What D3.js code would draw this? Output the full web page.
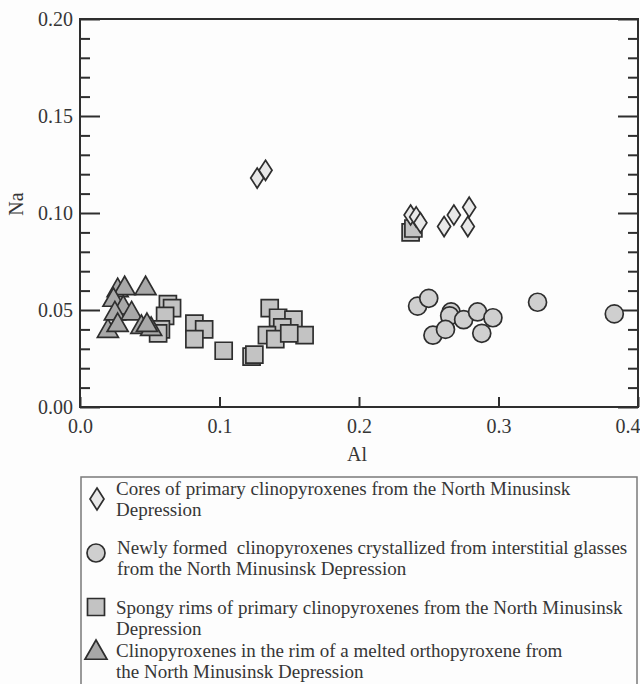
<!DOCTYPE html>
<html>
<head>
<meta charset="utf-8">
<script src="https://cdn.jsdelivr.net/npm/d3@7"></script>
<style>
  body { margin: 0; background: #fdfdfd; }
  svg { display: block; }
  text { font-family: "Liberation Serif", "Times New Roman", serif; fill: #363636; }
</style>
</head>
<body>
<div id="container"></div>
<script>
let w = 640;
let h = 684;

// cores of primary clinopyroxenes (diamonds)
let coresAl = [0.127, 0.133, 0.237, 0.241, 0.244, 0.261, 0.268, 0.279, 0.278];
let coresNa = [0.118, 0.122, 0.099, 0.098, 0.095, 0.093, 0.099, 0.103, 0.093];

// newly formed clinopyroxenes (circles)
let newAl = [0.242, 0.250, 0.266, 0.265, 0.275, 0.285, 0.296, 0.253, 0.262, 0.288, 0.328, 0.383];
let newNa = [0.052, 0.056, 0.049, 0.047, 0.045, 0.049, 0.046, 0.037, 0.040, 0.038, 0.054, 0.048];

// spongy rims (squares)
let spongyAl = [0.063, 0.066, 0.061, 0.058, 0.056, 0.082, 0.089, 0.082, 0.103, 0.123, 0.125,
                0.136, 0.142, 0.153, 0.145, 0.161, 0.134, 0.140, 0.150, 0.237, 0.239];
let spongyNa = [0.053, 0.051, 0.047, 0.040, 0.038, 0.043, 0.040, 0.035, 0.029, 0.026, 0.027,
                0.051, 0.046, 0.045, 0.041, 0.037, 0.037, 0.035, 0.038, 0.090, 0.092];

// rim of a melted orthopyroxene (triangles)
let rimAl = [0.020, 0.027, 0.032, 0.047, 0.024, 0.031, 0.025, 0.037, 0.027, 0.044, 0.051, 0.048];
let rimNa = [0.040, 0.061, 0.062, 0.062, 0.056, 0.052, 0.049, 0.049, 0.043, 0.042, 0.041, 0.043];

let xTicks = [0, 0.1, 0.2, 0.3, 0.4];
let xTickLabels = ["0.0", "0.1", "0.2", "0.3", "0.4"];
let yTicks = [0, 0.05, 0.10, 0.15, 0.20];
let yTickLabels = ["0.00", "0.05", "0.10", "0.15", "0.20"];
let yMinor = [0.01, 0.02, 0.03, 0.04, 0.06, 0.07, 0.08, 0.09, 0.11, 0.12, 0.13, 0.14, 0.16, 0.17, 0.18, 0.19];

let legendLines = [
  ["Cores of primary clinopyroxenes from the North Minusinsk", "Depression"],
  ["Newly formed  clinopyroxenes crystallized from interstitial glasses", "from the North Minusinsk Depression"],
  ["Spongy rims of primary clinopyroxenes from the North Minusinsk", "Depression"],
  ["Clinopyroxenes in the rim of a melted orthopyroxene from", "the North Minusinsk Depression"]
];

let plotLeft = 80, plotRight = 638, plotTop = 19, plotBottom = 407;
let ink = "#2e2e2e";

let xScale = d3.scaleLinear().domain([0, 0.4]).range([plotLeft, plotRight]);
let yScale = d3.scaleLinear().domain([0, 0.2]).range([plotBottom, plotTop]);

let viz = d3.select("#container")
  .append("svg")
    .attr("width", w)
    .attr("height", h)
    .style("background-color", "#fdfdfd");

// marker shapes
const diamond = (cx, cy, rx, ry) =>
  `M${cx},${cy - ry}L${cx + rx},${cy}L${cx},${cy + ry}L${cx - rx},${cy}Z`;
const square = (cx, cy, s) =>
  `M${cx - s},${cy - s}h${2 * s}v${2 * s}h${-2 * s}Z`;
const triangle = (cx, cy, s) =>
  `M${cx},${cy - s}L${cx + s},${cy + s * 0.75}L${cx - s},${cy + s * 0.75}Z`;

function zipped(a, b) {
  return a.map((v, i) => ({x: v, y: b[i]}));
}

// axes
let yLeft = d3.axisLeft(yScale).tickValues(yTicks)
  .tickFormat((d, i) => yTickLabels[i]).tickSize(-20).tickSizeOuter(0).tickPadding(7);
viz.append("g").attr("transform", "translate(" + plotLeft + ",0)").call(yLeft);

let yLeftMinor = d3.axisLeft(yScale).tickValues(yMinor).tickFormat("").tickSize(-10).tickSizeOuter(0);
viz.append("g").attr("transform", "translate(" + plotLeft + ",0)").call(yLeftMinor);

let yRight = d3.axisRight(yScale).tickValues(yTicks).tickFormat("").tickSize(-20).tickSizeOuter(0);
viz.append("g").attr("transform", "translate(" + plotRight + ",0)").call(yRight);
let yRightMinor = d3.axisRight(yScale).tickValues(yMinor).tickFormat("").tickSize(-10).tickSizeOuter(0);
viz.append("g").attr("transform", "translate(" + plotRight + ",0)").call(yRightMinor);

let xAxis = d3.axisBottom(xScale).tickValues(xTicks)
  .tickFormat((d, i) => xTickLabels[i]).tickSize(-10).tickSizeOuter(0).tickPadding(12);
let xAxisGroup = viz.append("g").attr("transform", "translate(0," + plotBottom + ")").call(xAxis);
// last label sits flush with the right edge of the page
xAxisGroup.selectAll(".tick text").filter(d => d == 0.4)
  .attr("text-anchor", "end").attr("x", 2);

viz.selectAll(".domain").remove();
viz.selectAll(".tick line").attr("stroke", ink).attr("stroke-width", 2);
viz.selectAll(".tick text").style("font-size", "20px").attr("fill", "#363636");

// frame
viz.append("rect")
  .attr("x", plotLeft).attr("y", plotTop)
  .attr("width", plotRight - plotLeft).attr("height", plotBottom - plotTop)
  .attr("fill", "none").attr("stroke", ink).attr("stroke-width", 2);

viz.append("text").attr("x", 357).attr("y", 461)
  .attr("text-anchor", "middle").style("font-size", "20px").text("Al");
viz.append("text").attr("transform", "translate(23,204) rotate(-90)")
  .attr("text-anchor", "middle").style("font-size", "20px").text("Na");

let marks = viz.append("g").attr("stroke", ink).attr("stroke-width", 1.7);

marks.selectAll(".sq").data(zipped(spongyAl, spongyNa)).enter()
  .append("path").attr("class", "sq")
  .attr("d", d => square(xScale(d.x), yScale(d.y), 8.5))
  .attr("fill", "#c3c3c3");

marks.selectAll(".tri").data(zipped(rimAl, rimNa)).enter()
  .append("path").attr("class", "tri")
  .attr("d", d => triangle(xScale(d.x), yScale(d.y), 10.5))
  .attr("fill", "#a8a8a8");

marks.selectAll(".dia").data(zipped(coresAl, coresNa)).enter()
  .append("path").attr("class", "dia")
  .attr("d", d => diamond(xScale(d.x), yScale(d.y), 6.5, 10))
  .attr("fill", "#e8e8e8");

marks.selectAll(".circ").data(zipped(newAl, newNa)).enter()
  .append("circle").attr("class", "circ")
  .attr("cx", d => xScale(d.x)).attr("cy", d => yScale(d.y))
  .attr("r", 9)
  .attr("fill", "#cfcfcf");

// legend
let legend = viz.append("g");
legend.append("rect")
  .attr("x", 81).attr("y", 477).attr("width", 556).attr("height", 230)
  .attr("fill", "none").attr("stroke", "#7a7a7a").attr("stroke-width", 1.5);

let legendY = [495, 554, 614, 657];
let sym = legend.append("g").attr("stroke", ink).attr("stroke-width", 1.7);
sym.append("path").attr("d", diamond(97, 499, 7, 11)).attr("fill", "#e8e8e8");
sym.append("circle").attr("cx", 96).attr("cy", 553).attr("r", 9).attr("fill", "#cfcfcf");
sym.append("path").attr("d", square(96, 607, 8.5)).attr("fill", "#c3c3c3");
sym.append("path").attr("d", triangle(96, 651, 11)).attr("fill", "#a8a8a8");

legendLines.forEach((pair, i) => {
  pair.forEach((line, j) => {
    legend.append("text")
      .attr("x", i == 1 ? 117 : 116)
      .attr("y", legendY[i] + j * 20.5)
      .style("font-size", "19px")
      .style("white-space", "pre")
      .text(line);
  });
});
</script>
</body>
</html>
